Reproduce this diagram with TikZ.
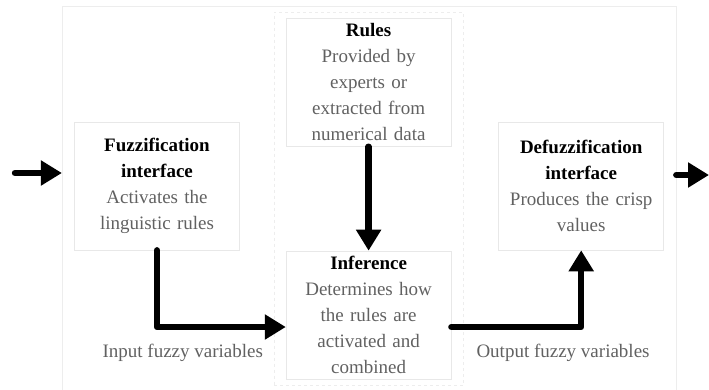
\documentclass[tikz,border=0pt]{standalone}
\usepackage{fontspec}
\setmainfont{Liberation Serif}
\usepackage{xcolor}
\usepackage{tikz}
\usetikzlibrary{arrows.meta, positioning, calc, fit}

\begin{document}
\begin{tikzpicture}[x=1pt, y=1pt, >={Triangle[length=21pt, width=24pt]},
    blockbox/.style={draw=black!9, line width=0.6pt, text=black!62, align=center, text width=150pt, minimum width=165pt, minimum height=128pt, inner sep=0pt, font=\fontsize{19}{26}\selectfont},
    flow/.style={->, line width=6.4pt, line cap=round, line join=round},
    flowlabel/.style={text=black!62, font=\fontsize{19}{26}\selectfont}]
    \useasboundingbox (0,0) rectangle (709,-389);

    \node[blockbox] (fuzz) at (157,-186) {\textcolor{black}{\textbf{Fuzzification}}\\\textcolor{black}{\textbf{interface}}\\Activates the\\linguistic rules};

    \node[blockbox, right=46pt of fuzz, yshift=-129pt] (infer) {\textcolor{black}{\textbf{Inference}}\\Determines how\\the rules are\\activated and\\combined};

    \node[blockbox, above=104pt of infer] (rules) {\textcolor{black}{\textbf{Rules}}\\Provided by\\experts or\\extracted from\\numerical data};

    \node[blockbox, right=47pt of infer, yshift=129pt] (defuzz) {\textcolor{black}{\textbf{Defuzzification}}\\\textcolor{black}{\textbf{interface}}\\Produces the crisp\\values};

    % frames
    \node[draw=black!7, dashed, line width=0.6pt, inner xsep=12pt, inner ysep=6pt, fit=(rules)(infer)] (core) {};
    \node[draw=black!7, line width=0.6pt, inner sep=12pt, fit=(fuzz)(rules)(infer)(defuzz)] (system) {};

    \coordinate (in) at (15,-173);
    \coordinate (out) at (709,-175);

    \draw[flow] (in) -- (in -| system.west);
    \draw[flow] (out -| system.east) -- (out);
    \draw[flow] (rules) -- (infer);
    \draw[flow] (fuzz.south) |- ($(infer.west)+(0,-12)$) node[flowlabel, pos=0.6, below=11pt] (inlabel) {Input fuzzy variables};
    \draw[flow] ($(infer.east)+(0,-12)$) -| (defuzz.south) node[flowlabel, pos=0.43, below=11pt] (outlabel) {Output fuzzy variables};
\end{tikzpicture}
\end{document}
